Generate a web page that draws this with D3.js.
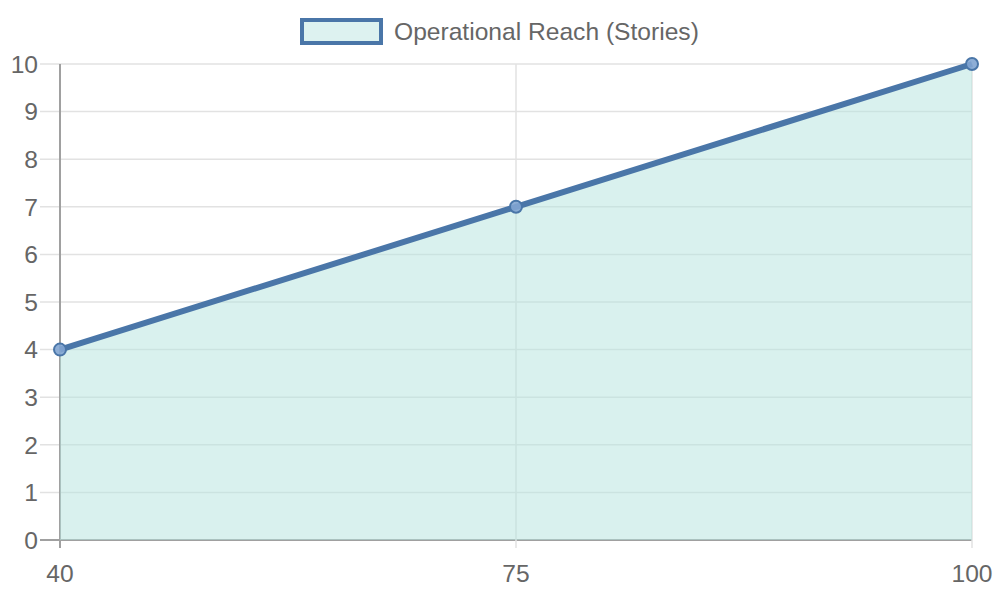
<!DOCTYPE html>
<html><head><meta charset="utf-8">
<script src="https://cdn.jsdelivr.net/npm/d3@7"></script>
<style>body{margin:0;background:#fff;}svg{display:block;font-family:"Liberation Sans",Arial,sans-serif;}</style>
</head><body>
<svg id="c" width="1000" height="600"></svg>
<script>
const categories = ["40", "75", "100"];
const values = [4, 7, 10];
const yTicks = [0,1,2,3,4,5,6,7,8,9,10];
const seriesName = "Operational Reach (Stories)";

(function(){
const svg = d3.select("#c");
const mLeft = 60, mRight = 972, mTop = 64, mBottom = 540;
const x = d3.scalePoint().domain(categories).range([mLeft, mRight]);
const y = d3.scaleLinear().domain([0, 10]).range([mBottom, mTop]);

const lineColor = "#4a76a8", fillColor = "rgba(180,228,222,0.5)", gridColor = "#e2e2e2", textColor = "#666";
const fs = 24.6;

const gy = svg.append("g");
yTicks.forEach(t => {
  gy.append("line").attr("x1", mLeft - 20).attr("x2", mRight).attr("y1", y(t)).attr("y2", y(t))
    .attr("stroke", t === 0 ? "#a0a0a0" : gridColor).attr("stroke-width", t === 0 ? 2 : 1.5);
  gy.append("text").attr("x", 38).attr("y", y(t)).attr("dy", "0.36em").attr("text-anchor", "end")
    .attr("fill", textColor).attr("font-size", fs).text(t);
});
const gx = svg.append("g");
categories.forEach((c, i) => {
  gx.append("line").attr("x1", x(c)).attr("x2", x(c)).attr("y1", mTop).attr("y2", mBottom + 8)
    .attr("stroke", i === 0 ? "#a0a0a0" : gridColor).attr("stroke-width", i === 0 ? 2 : 1.5);
  gx.append("text").attr("x", x(c)).attr("y", 582).attr("text-anchor", "middle")
    .attr("fill", textColor).attr("font-size", fs).text(c);
});

const data = categories.map((c, i) => ({c, v: values[i]}));
svg.append("path").datum(data)
  .attr("d", d3.area().x(d => x(d.c)).y0(y(0)).y1(d => y(d.v)))
  .attr("fill", fillColor);
svg.append("path").datum(data)
  .attr("d", d3.line().x(d => x(d.c)).y(d => y(d.v)))
  .attr("fill", "none").attr("stroke", lineColor).attr("stroke-width", 6);
svg.selectAll("circle.pt").data(data).enter().append("circle")
  .attr("cx", d => x(d.c)).attr("cy", d => y(d.v)).attr("r", 6)
  .attr("fill", "rgba(130,165,210,0.9)").attr("stroke", lineColor).attr("stroke-width", 2);

const lg = svg.append("g");
lg.append("rect").attr("x", 302).attr("y", 20).attr("width", 79).attr("height", 23)
  .attr("fill", "#ddf2f0").attr("stroke", lineColor).attr("stroke-width", 4);
lg.append("text").attr("x", 394).attr("y", 40).attr("fill", textColor).attr("font-size", fs).text(seriesName);
})();
</script>
</body></html>
